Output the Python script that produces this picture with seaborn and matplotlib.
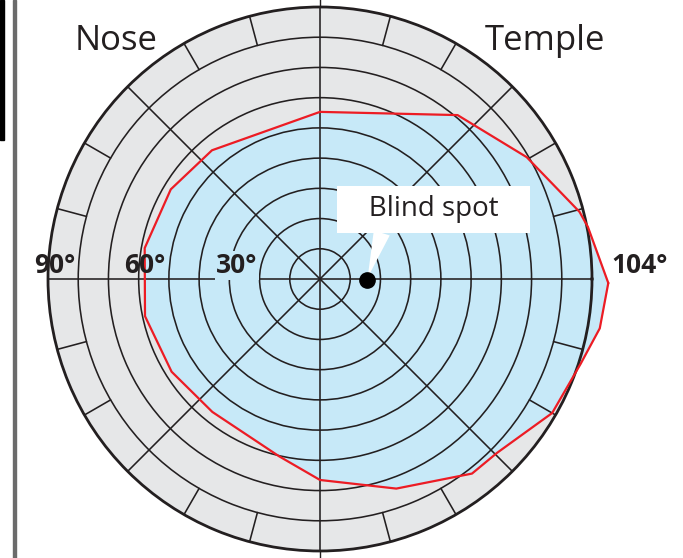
import numpy as np
import seaborn as sns
import matplotlib.pyplot as plt
from matplotlib.patches import Rectangle

# visual field boundary (angle in degrees ccw from temple side, eccentricity in degrees)
field_angle = [-0.8, 11, 14.5, 30.5, 50, 90, 130, 149, 170, 192, 212, 231, 257,
               270, 290, 308, 315.5, 330, 342, 350]
field_ecc = [95.4, 90.3, 88.7, 79.4, 70.8, 55.3, 55.6, 57.6, 58.9, 59.2, 57.9,
             56.6, 60.2, 66.5, 73.8, 81.7, 82.1, 88.7, 90.7, 94.0]

ring_values = [10, 20, 30, 40, 50, 60, 70, 80]
spoke_angles = [0, 45, 90, 135, 180, 225, 270, 315]
minor_angles = [a for a in range(0, 360, 15) if a % 45 != 0]

blind_angle = -1.5
blind_ecc = 15.5

deg_labels = ['90°', '60°', '30°', '104°']
deg_label_angle = [180, 180, 180, 0]
deg_label_r = [87.7, 58.0, 27.6, 105.9]

gray = '#e6e7e8'
blue = '#c7e9f8'
red = '#ed1c24'
ink = '#231f20'

sns.set_style('white')
plt.rcParams['font.family'] = ['Open Sans', 'DejaVu Sans']

fig = plt.figure(figsize=(6.83, 5.58), dpi=100)
ax = fig.add_axes([48 / 683, 7 / 558, 544 / 683, 544 / 558], projection='polar')
ax.set_facecolor(gray)
ax.set_rlim(0, 90)
ax.set_yticks(ring_values)
ax.set_yticklabels([])
ax.set_xticks(np.deg2rad(spoke_angles))
ax.set_xticklabels([])
ax.tick_params(length=0)
ax.set_axisbelow(False)
ax.grid(True, color=ink, lw=1.15)
ax.spines['polar'].set_linewidth(2.0)
ax.spines['polar'].set_color(ink)

th = np.deg2rad(field_angle + field_angle[:1])
rr = np.array(field_ecc + field_ecc[:1])
ax.fill(th, rr, color=blue, zorder=1, clip_on=False)
sns.lineplot(x=th, y=rr, sort=False, estimator=None, ax=ax, color=red,
             lw=1.6, zorder=3, clip_on=False)

# small ticks in the outer ring
for a in minor_angles:
    ax.plot(np.deg2rad([a, a]), [80, 90], color=ink, lw=1.15, zorder=2.6)

# vertical meridian runs off the circle
for a in [90, 270]:
    ax.plot(np.deg2rad([a, a]), [90, 100], color=ink, lw=1.0, clip_on=False)

ax.plot(np.deg2rad(blind_angle), blind_ecc, 'o', color='black', ms=11, zorder=6)
ax.annotate('   Blind spot   ', xy=(np.deg2rad(blind_angle), blind_ecc),
            xytext=(67, 71), textcoords='offset pixels', ha='center', va='center',
            fontsize=20, color=ink, zorder=5,
            bbox=dict(boxstyle='square,pad=0.35', fc='white', ec='none'),
            arrowprops=dict(arrowstyle='wedge,tail_width=0.6', fc='white', ec='none',
                            relpos=(0.22, 0.05), shrinkA=0, shrinkB=2))

for lab, a, r in zip(deg_labels, deg_label_angle, deg_label_r):
    bb = dict(boxstyle='square,pad=0.05', fc=blue, ec='none') if lab == '30°' else None
    ax.annotate(lab, xy=(np.deg2rad(a), r), xytext=(0, 6), textcoords='offset pixels',
                ha='center', va='baseline', fontsize=19, fontweight='bold',
                color=ink, annotation_clip=False, zorder=5, bbox=bb)

fig.text(75 / 683, 1 - 50 / 558, 'Nose', fontsize=25, color=ink, va='baseline')
fig.text(485 / 683, 1 - 50 / 558, 'Temple', fontsize=25, color=ink, va='baseline')

# page edge remnants on the left
fig.add_artist(Rectangle((0, 1 - 140 / 558), 4 / 683, 140 / 558,
                         transform=fig.transFigure, color='black'))
fig.add_artist(Rectangle((13 / 683, 0), 3 / 683, 1,
                         transform=fig.transFigure, color='#6b6b6b'))

fig.savefig('out.png', dpi=100)
